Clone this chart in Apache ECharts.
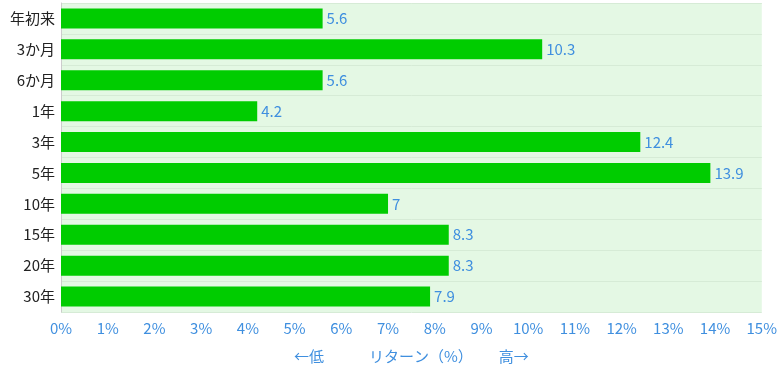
<!DOCTYPE html>
<html><head><meta charset="utf-8">
<script src="https://cdn.jsdelivr.net/npm/echarts@6/dist/echarts.min.js"></script>
<style>html,body{margin:0;padding:0;background:#fff}#c{width:780px;height:369px}</style>
</head><body><div id="c"></div>
<script>
const categories = ['年初来','3か月','6か月','1年','3年','5年','10年','15年','20年','30年'];
const returns = [5.6, 10.3, 5.6, 4.2, 12.4, 13.9, 7, 8.3, 8.3, 7.9];
const xTicks = [0,1,2,3,4,5,6,7,8,9,10,11,12,13,14,15];
const axisTitle = '←低　　　リターン（%）　　 高→';

const chart = echarts.init(document.getElementById('c'));
const font = '"Noto Sans CJK JP", "Noto Sans", sans-serif';
const blue = '#3f8fdf';
chart.setOption({
  textStyle: {fontFamily: font},
  grid: {left: 61, right: 17, top: 3, bottom: 56, show: true, backgroundColor: '#e4f8e4', borderWidth: 0},
  xAxis: {
    type: 'value', min: xTicks[0], max: xTicks[xTicks.length-1], interval: 1,
    axisLabel: {color: blue, fontSize: 15, fontFamily: font, formatter: v => v + '%', margin: 9},
    splitLine: {show: false}, axisLine: {show: false}, axisTick: {show: false},
    name: axisTitle, nameLocation: 'middle', nameGap: 37,
    nameTextStyle: {color: blue, fontSize: 15, fontFamily: font}
  },
  yAxis: {
    type: 'category', data: categories, inverse: true,
    axisLabel: {color: '#222', fontSize: 15, fontFamily: font, margin: 6},
    axisLine: {show: true, lineStyle: {color: '#cccccc'}},
    axisTick: {show: false},
    splitLine: {show: true, lineStyle: {color: '#d6ebd6', width: 1}}
  },
  series: [{
    type: 'bar', data: returns, barWidth: 20,
    itemStyle: {color: '#00cc00'},
    label: {show: true, position: 'right', color: blue, fontSize: 15, fontFamily: font, distance: 4},
    animation: false
  }],
  animation: false
});
</script></body></html>
